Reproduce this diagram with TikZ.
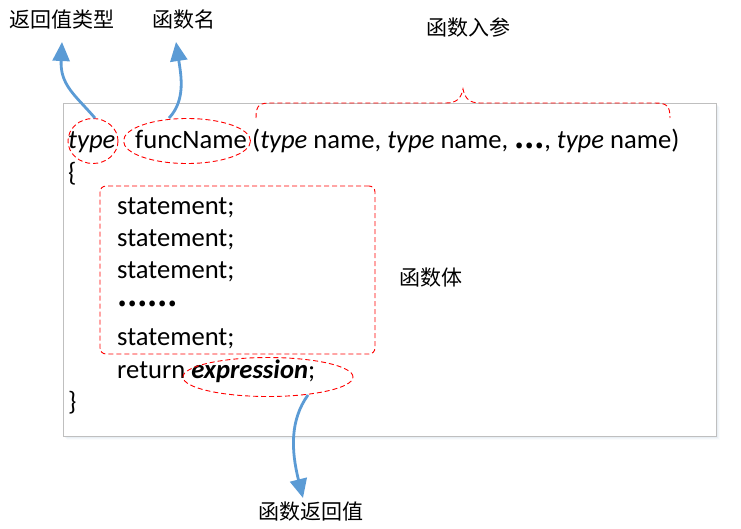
\documentclass[tikz,border=0pt]{standalone}
\usepackage{fontspec}
\setmainfont{Carlito}
\newfontfamily\cjk{Noto Sans CJK SC}
\usetikzlibrary{shapes.geometric,arrows.meta}
\definecolor{arrowblue}{RGB}{91,155,213}
\definecolor{boxgray}{RGB}{191,191,191}
\tikzset{
  code/.style={anchor=base west,inner sep=0pt,font=\fontsize{26.6}{31}\selectfont},
  lbl/.style={inner sep=0pt,font=\cjk\fontsize{21}{25}\selectfont},
  reddash/.style={draw=red,line width=0.9pt,dash pattern=on 5pt off 3pt},
  callout/.style={draw=arrowblue,line width=2.8pt,-{Triangle[length=19pt,width=17pt]}},
}
\begin{document}
\begin{tikzpicture}[x=1pt,y=-1pt]
\useasboundingbox (0,0) rectangle (741,528);
% shadow of the main box
\foreach \d/\o in {1/0.10,2/0.07,3/0.05,4/0.03}{
  \fill[arrowblue!60!gray,opacity=\o] (63+\d,103+\d) rectangle (716+\d,436+\d);
}
\node[draw=boxgray,fill=white,line width=1pt,inner sep=0pt,minimum width=653pt,minimum height=333pt,anchor=north west] (box) at (63,103) {};

% code text
\node[code] (ty) at (68,148) {\itshape type};
\node[code] (fn) at (135,148) {funcName};
\node[code] (params) at (252,148) {(\textit{type} name, \textit{type} name, {\cjk\bfseries ⋯}, \textit{type} name)};
\node[code] (lb) at (68,181) {\{};
\node[code] (s1) at (117,214) {statement;};
\node[code] (s2) at (117,246) {statement;};
\node[code] (s3) at (117,278) {statement;};
\node[code] (dots) at (117,306) {{\cjk\bfseries ……}};
\node[code] (s4) at (117,345) {statement;};
\node[code] (ret) at (117,378) {return \textbf{\textit{expression}};};
\node[code] (rb) at (68,410) {\}};

% red dashed marks
\node[reddash,ellipse,inner sep=0pt,minimum width=50pt,minimum height=45pt] (typeE) at (93,141) {};
\node[reddash,ellipse,inner sep=0pt,minimum width=127pt,minimum height=45pt] (fnE) at (187,141) {};
\node[reddash,ellipse,inner sep=0pt,minimum width=170pt,minimum height=39pt] (exprE) at (268,377) {};
\node[reddash,rounded corners=6pt,inner sep=0pt,minimum width=275pt,minimum height=168pt] (bodyR) at (237.5,270) {};
\draw[reddash] (256,118) .. controls (256,104) and (260,103) .. (272,103) -- (446,103)
  .. controls (456,103) and (461,99) .. (463,89) coordinate (braceTip)
  .. controls (465,99) and (470,103) .. (480,103) -- (655,103)
  .. controls (667,103) and (670,106) .. (670,118);

% labels
\node[lbl] (l1) at (62,20) {返回值类型};
\node[lbl] (l2) at (184,20) {函数名};
\node[lbl] (l3) at (468,27) {函数入参};
\node[lbl] (l4) at (431,278) {函数体};
\node[lbl] (l5) at (311,512) {函数返回值};

% arrows
\coordinate (t1) at (62,42);
\coordinate (t2) at (176,42);
\coordinate (t5) at (303,498);
\draw[callout] (typeE.north) ++(2,0) .. controls (75,95) and (60,85) .. (t1);
\draw[callout] (fnE.north) ++(-18,0) .. controls (186,100) and (181,75) .. (t2);
\draw[callout] (exprE.south) ++(40,-2) .. controls (290,420) and (291,450) .. (t5);
\end{tikzpicture}
\end{document}
